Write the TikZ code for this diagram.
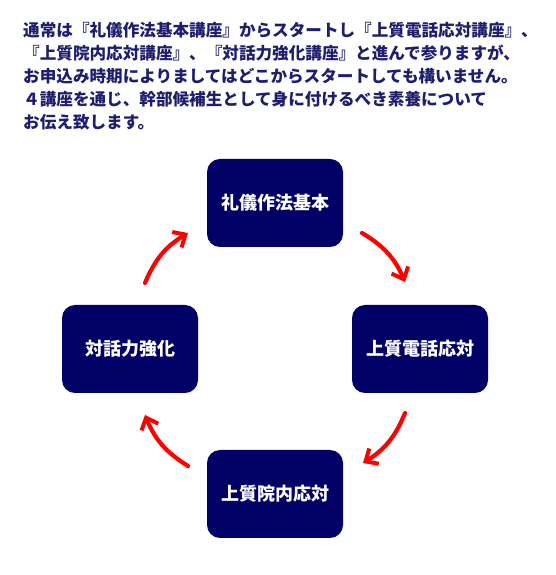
\documentclass[tikz,border=0pt]{standalone}
\usepackage{fontspec}
\newfontfamily\jpfont{Noto Sans CJK JP}
\usepackage{xcolor}
\usepackage{tikz}
\usetikzlibrary{positioning,arrows.meta}
\definecolor{navybox}{HTML}{000066}
\definecolor{navytext}{HTML}{1E1E6E}

\begin{document}
\begin{tikzpicture}[
  x=1pt, y=1pt,
  box/.style={rectangle, fill=navybox, rounded corners=13pt,
              minimum width=136pt, minimum height=88pt,
              font=\jpfont\bfseries\fontsize{18}{21}\selectfont,
              text=white, align=center},
  intro/.style={anchor=north west, inner sep=0pt, align=left,
                font=\jpfont\bfseries\fontsize{16.6}{23}\selectfont, text=navytext},
  cycle/.style={-{Straight Barb[length=10pt,width=18pt,line width=4pt]},
                line width=4.2pt, red, line cap=round}
]
  \useasboundingbox (0,0) rectangle (556,575);

  \node[intro] (intro) at (23,553) {通常は『礼儀作法基本講座』からスタートし『上質電話応対講座』、\\
『上質院内応対講座』、『対話力強化講座』と進んで参りますが、\\
お申込み時期によりましてはどこからスタートしても構いません。\\
４講座を通じ、幹部候補生として身に付けるべき素養について\\
お伝え致します。};

  \node[box] (reigi)  at (275,372) {礼儀作法基本};
  \node[box] (denwa)  at (420,226) {上質電話応対};
  \node[box] (innai)  at (275,81)  {上質院内応対};
  \node[box] (taiwa)  at (130,226) {対話力強化};

  % arrow ends, kept clear of the boxes
  \coordinate (tl-a) at (145,292);
  \coordinate (tl-b) at (188,342);
  \coordinate (tr-a) at (362,342);
  \coordinate (tr-b) at (405,293);
  \coordinate (br-a) at (405,162);
  \coordinate (br-b) at (363,112);
  \coordinate (bl-a) at (188,109);
  \coordinate (bl-b) at (145,160);

  \draw[cycle] (tl-a) to[bend left=18] (tl-b);
  \draw[cycle] (tr-a) to[bend left=18] (tr-b);
  \draw[cycle] (br-a) to[bend left=18] (br-b);
  \draw[cycle] (bl-a) to[bend left=18] (bl-b);
\end{tikzpicture}
\end{document}
